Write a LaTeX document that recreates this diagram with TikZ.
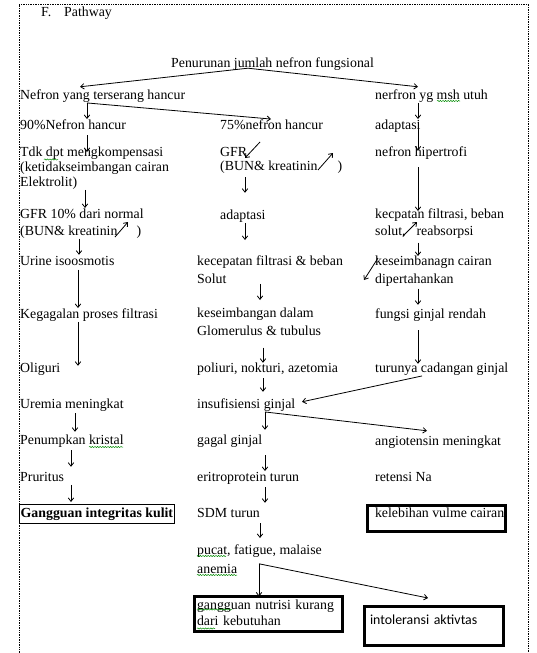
\documentclass[tikz,border=0pt]{standalone}
\usepackage{fontspec}
\setmainfont{Liberation Serif}
\newfontfamily\calibfont{Carlito}
\usetikzlibrary{arrows.meta,calc,decorations.pathmorphing}
\newcommand\fsz{\fontsize{13.85}{16}\selectfont}
\begin{document}
\begin{tikzpicture}[x=1pt,y=-1pt,
  txt/.style={anchor=west,inner sep=0pt,font=\fsz,text height=10pt,text depth=3.5pt},
  mtxt/.style={anchor=north west,inner sep=0pt,align=left,font=\fontsize{13.85}{#1}\selectfont},
  arr/.style={draw=black,line width=0.8pt,-{Straight Barb[length=3.5pt,width=5.5pt]}},
  thickbox/.style={draw=black,line width=2.6pt,outer sep=0pt,anchor=north west},
  squig/.style={draw=green!55!black,line width=0.5pt,decorate,decoration={snake,amplitude=0.6pt,segment length=2.6pt}},
  framestyle/.style={draw=black,line width=0.8pt,dash pattern=on 0.8pt off 0.9pt}]
\fill[white] (0,0) rectangle (536,653);
\useasboundingbox (0,0) rectangle (536,653);
\draw[framestyle] (19,653) -- (19,4) -- (528,4) -- (528,653);

% title
\node[txt] (tF) at (41,13.7) {F.};
\node[txt] (tP) at (64,13.7) {Pathway};

% top
\node[txt] (pen) at (171,64.5) {Penurunan jumlah nefron fungsional};
\node[txt] (nyth) at (20,96) {Nefron yang terserang hancur};
\node[txt] (nyg) at (375,96) {nerfron yg msh utuh};

% row 90/75/adaptasi
\node[txt] (n90) at (20,126) {90\%Nefron hancur};
\node[txt] (n75) at (220,126) {75\%nefron hancur};
\node[txt] (adaR) at (375,126) {adaptasi};

\node[mtxt=15] (tdk) at (20,147) {Tdk dpt mengkompensasi\\(ketidakseimbangan cairan\\Elektrolit)};
\node[mtxt=14.5] (gfr) at (220,147) {GFR\\(BUN\& kreatinin\hspace{20pt})};
\node[txt] (hipR) at (375,153.7) {nefron hipertrofi};

\node[mtxt=16.7] (gfr10) at (20,209) {GFR 10\% dari normal\\(BUN\& kreatinin\hspace{19pt})};
\node[txt] (adaM) at (220,216) {adaptasi};
\node[mtxt=16.7] (kecR) at (375,209) {kecpatan filtrasi, beban\\solut,\hspace{11pt}reabsorpsi};

\node[txt] (urine) at (20,262.7) {Urine isoosmotis};
\node[mtxt=17.6] (kecM) at (197,256) {kecepatan filtrasi \& beban\\Solut};
\node[mtxt=17.6] (kesR) at (375,256) {keseimbanagn cairan\\dipertahankan};

\node[txt] (keg) at (20,315) {Kegagalan proses filtrasi};
\node[mtxt=17.7] (kesM) at (197,308) {keseimbangan dalam\\Glomerulus \& tubulus};
\node[txt] (fungsi) at (375,315) {fungsi ginjal rendah};

\node[txt] (olig) at (20,369) {Oliguri};
\node[txt] (poli) at (197,369) {poliuri, nokturi, azetomia};
\node[txt] (turun) at (375,369) {turunya cadangan ginjal};

\node[txt] (uremia) at (20,405) {Uremia meningkat};
\node[txt] (insuf) at (197,405) {insufisiensi ginjal};

\node[txt] (penum) at (20,441) {Penumpkan kristal};
\node[txt] (gagal) at (197,441) {gagal ginjal};
\node[txt] (angio) at (375,442) {angiotensin meningkat};

\node[txt] (prur) at (20,478) {Pruritus};
\node[txt] (eritro) at (197,478) {eritroprotein turun};
\node[txt] (retensi) at (375,478) {retensi Na};

\node[draw=black,line width=0.8pt,outer sep=0pt,anchor=west,inner xsep=1.2pt,inner ysep=2.75pt,font=\bfseries\fsz,text height=10pt,text depth=3.5pt] (gang) at (19.5,514) {Gangguan integritas kulit};
\node[txt] (sdm) at (197,514) {SDM turun};
\node[thickbox,inner xsep=7.5pt,inner ysep=2pt,text height=9.5pt,text depth=12.5pt,font=\fsz] (keleb) at (367.5,505.5) {\makebox[123pt][l]{kelebihan vulme cairan}};

\node[mtxt=19] (pucat) at (197,545) {pucat, fatigue, malaise\\anemia};
\node[thickbox,inner xsep=2.5pt,inner ysep=0pt,text width=143pt,minimum height=35pt,align=left,font=\fontsize{13.85}{16}\selectfont] (nutr) at (194.5,596.5) {gangguan nutrisi kurang\\dari kebutuhan\vphantom{g}};
\node[thickbox,inner xsep=5.5pt,inner ysep=8pt,text width=128pt,text height=9.5pt,text depth=13.5pt,align=left,font=\calibfont\fontsize{13.85}{16}\selectfont] (intol) at (364.5,606.5) {intoleransi aktivtas};

% connectors
\draw[arr] ($(pen.south -| 248,0)+(0,-3.25)$) -- ($(nyth.north -| 80,0)+(0,-2.25)$);
\draw[arr] ($(pen.south -| 248,0)+(0,-3.25)$) -- ($(nyg.north -| 418,0)+(0,-2.25)$);
\draw[arr] (nyth.south -| 87,0) -- (n90.north -| 87,0);
\draw[arr] (nyth.south -| 87,0) -- (n75.north -| 271,0);
\draw[arr] (nyg.south -| 418,0) -- (adaR.north -| 418,0);
\draw[arr,shorten <=2.75pt,shorten >=-3.75pt] (adaR.north -| 418,0) -- (hipR.north -| 418,0);
\draw[arr,shorten <=6.5pt,shorten >=-2pt] (hipR.south -| 418,0) -- (kecR.north -| 418,0);
\draw[arr,shorten <=3.8pt] (kecR.south -| 418,0) -- (kesR.north -| 418,0);
\draw[arr] ($(kesR.north west)+(3,2)$) -- ($(kesR.north west)+(-11,24)$);
\draw[arr,shorten <=2pt,shorten >=3.25pt] (kesR.south -| 418,0) -- (fungsi.north -| 418,0);
\draw[arr,shorten <=8.25pt,shorten >=-1.75pt] (fungsi.south -| 418,0) -- (turun.north -| 418,0);
\draw[arr] (turun.south -| 422,0) -- ($(insuf.north -| 302,0)+(0,3.75)$);
\draw[arr,shorten >=4.25pt] (insuf.south -| 265,0) -- (gagal.north -| 265,0);
\draw[arr] (insuf.south -| 265,0) -- ($(angio.north -| 427,0)+(0,-4.25)$);
\draw[arr,shorten <=2.25pt,shorten >=6.25pt] (poli.south -| 263,0) -- (insuf.north -| 263,0);
\draw[arr,shorten <=7.25pt] (gagal.south -| 265,0) -- (eritro.north -| 265,0);
\draw[arr,shorten <=2.25pt,shorten >=4.25pt] (eritro.south -| 265,0) -- (sdm.north -| 265,0);
\draw[arr,shorten <=2.25pt,shorten >=7pt] (sdm.south -| 260,0) -- (pucat.north -| 260,0);
\draw[arr] ($(pucat.south -| 259,0)+(0,-10.5)$) -- (nutr.north -| 259,0);
\draw[arr] ($(pucat.south -| 259,0)+(0,-10.5)$) -- ($(intol.north -| 428,0)+(0,-8.5)$);
\draw[arr,shorten <=2.25pt,shorten >=-5pt] (n90.south -| 87,0) -- (tdk.north -| 87,0);
\draw[arr,shorten >=1pt] (tdk.south -| 85,0) -- (gfr10.north -| 85,0);
\draw[arr,shorten >=1pt] (gfr10.south -| 79,0) -- (urine.north -| 79,0);
\draw[arr] (urine.south -| 78,0) -- (keg.north -| 78,0);
\draw[arr,shorten >=-3.75pt] (keg.south -| 78,0) -- (olig.north -| 78,0);
\draw[arr,shorten <=1.25pt,shorten >=2.25pt] (uremia.south -| 75,0) -- (penum.north -| 75,0);
\draw[arr,shorten <=2.25pt,shorten >=4.25pt] (penum.south -| 71,0) -- (prur.north -| 71,0);
\draw[arr,shorten >=2.5pt] (prur.south -| 71,0) -- (gang.north -| 71,0);
\draw[arr,shorten <=3pt,shorten >=16.25pt] (gfr.south -| 245,0) -- (adaM.north -| 245,0);
\draw[arr,shorten >=16pt] (adaM.south -| 245,0) -- (kecM.north -| 245,0);
\draw[arr,shorten >=8pt] (kecM.south -| 260,0) -- (kesM.north -| 260,0);
\draw[arr,shorten <=11.8pt,shorten >=-0.75pt] (kesM.south -| 263,0) -- (poli.north -| 263,0);

% inline up/down arrows
\draw[arr] ($(gfr.north west)+(40,-5)$) -- ($(gfr.north west)+(25,11)$);
\draw[arr] ($(gfr.north west)+(98,23)$) -- ($(gfr.north west)+(113,6)$);
\draw[arr] ($(gfr10.north west)+(95,28)$) -- ($(gfr10.north west)+(108,13)$);
\draw[arr] ($(kecR.north west)+(28,27)$) -- ($(kecR.north west)+(42,13)$);

% spell-check squiggles
\draw[squig] (44,159.5) -- (58,159.5);
\draw[squig] (437,101) -- (460,101);
\draw[squig] (89,447) -- (123,447);
\draw[squig] (197,556) -- (226,556);
\draw[squig] (197,575) -- (237,575);
\draw[squig] (197,609.5) -- (232,609.5);
\draw[squig] (197,628.5) -- (215,628.5);
\end{tikzpicture}
\end{document}
